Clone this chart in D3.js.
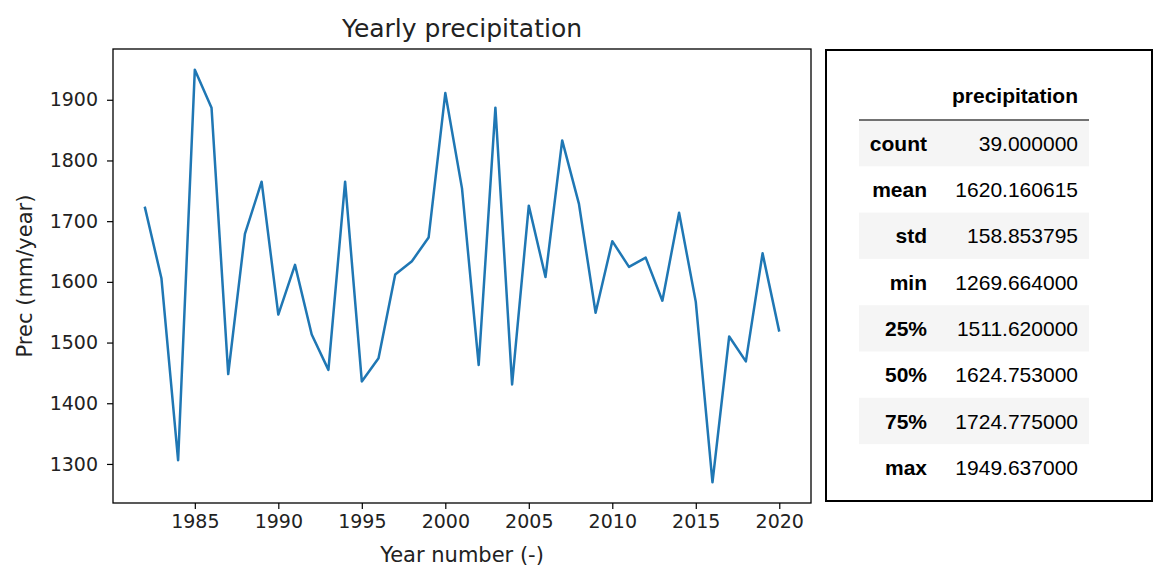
<!DOCTYPE html>
<html>
<head>
<meta charset="utf-8">
<title>Yearly precipitation</title>
<script src="https://d3js.org/d3.v7.min.js"></script>
<style>
  body { margin: 0; background: #fff; }
  svg { display: block; }
  .tick text { font-family: "DejaVu Sans", sans-serif; font-size: 19px; fill: #222; }
  .lbl { font-family: "DejaVu Sans", sans-serif; fill: #222; }
  .tbl { font-family: "Liberation Sans", Arial, sans-serif; font-size: 21px; fill: #000; }
</style>
</head>
<body>
<svg id="chart" width="1153" height="567"></svg>
<script>
// yearly totals (mm/year)
const years = d3.range(1982, 2021);
const precip = [
  1724, 1606, 1306, 1949.637, 1887, 1448, 1679, 1765, 1546, 1628,
  1513.24, 1455, 1765, 1436, 1474, 1612, 1634, 1673, 1911, 1754,
  1463, 1887, 1431, 1725.55, 1608, 1833, 1729, 1549, 1667, 1624.753,
  1640, 1569, 1714, 1567, 1269.664, 1510, 1469, 1647, 1518
];
const xTicks = [1985, 1990, 1995, 2000, 2005, 2010, 2015, 2020];
const yTicks = [1300, 1400, 1500, 1600, 1700, 1800, 1900];

// describe() table
const statLabels = ["count", "mean", "std", "min", "25%", "50%", "75%", "max"];
const statValues = ["39.000000", "1620.160615", "158.853795", "1269.664000",
                    "1511.620000", "1624.753000", "1724.775000", "1949.637000"];

const svg = d3.select("#chart");
const margin = { top: 49, right: 342, bottom: 64, left: 113 };
const width = 1153 - margin.left - margin.right,
      height = 567 - margin.top - margin.bottom;

const data = years.map((y, i) => ({ year: y, value: precip[i] }));

// matplotlib-style 5% margins
const xr = d3.extent(years), yr = d3.extent(precip);
const xPad = (xr[1] - xr[0]) * 0.05, yPad = (yr[1] - yr[0]) * 0.05;

const x = d3.scaleLinear().domain([xr[0] - xPad, xr[1] + xPad]).range([0, width]);
const y = d3.scaleLinear().domain([yr[0] - yPad, yr[1] + yPad]).range([height, 0]);

const g = svg.append("g").attr("transform", `translate(${margin.left},${margin.top})`);

g.append("g")
  .attr("transform", `translate(0,${height})`)
  .call(d3.axisBottom(x).tickValues(xTicks).tickFormat(d3.format("d")).tickSize(6).tickPadding(6))
  .call(a => a.select(".domain").remove())
  .call(a => a.selectAll("line").attr("stroke", "#000").attr("stroke-width", 1.2));

g.append("g")
  .call(d3.axisLeft(y).tickValues(yTicks).tickFormat(d3.format("d")).tickSize(6).tickPadding(9))
  .call(a => a.select(".domain").remove())
  .call(a => a.selectAll("line").attr("stroke", "#000").attr("stroke-width", 1.2));

g.append("path")
  .datum(data)
  .attr("fill", "none")
  .attr("stroke", "#1f77b4")
  .attr("stroke-width", 2.5)
  .attr("stroke-linejoin", "round")
  .attr("d", d3.line().x(d => x(d.year)).y(d => y(d.value)));

// frame
g.append("rect")
  .attr("width", width).attr("height", height)
  .attr("fill", "none").attr("stroke", "#000").attr("stroke-width", 1.3);

svg.append("text").attr("class", "lbl")
  .attr("x", margin.left + width / 2).attr("y", 37)
  .attr("text-anchor", "middle").style("font-size", "25px")
  .text("Yearly precipitation");

svg.append("text").attr("class", "lbl")
  .attr("x", margin.left + width / 2).attr("y", 562)
  .attr("text-anchor", "middle").style("font-size", "21px")
  .text("Year number (-)");

svg.append("text").attr("class", "lbl")
  .attr("transform", `translate(32,${margin.top + height / 2}) rotate(-90)`)
  .attr("text-anchor", "middle").style("font-size", "21px")
  .text("Prec (mm/year)");

// stats table
const tb = svg.append("g");
tb.append("rect")
  .attr("x", 826).attr("y", 50).attr("width", 326).attr("height", 451)
  .attr("fill", "#fff").attr("stroke", "#000").attr("stroke-width", 2);

const rowTop = 120, rowH = 46.3, tLeft = 859, tRight = 1089;
const rows = d3.scaleBand().domain(statLabels).range([rowTop, rowTop + rowH * statLabels.length]);

tb.selectAll(".shade")
  .data(statLabels.filter((d, i) => i % 2 === 0))
  .join("rect")
  .attr("x", tLeft).attr("width", tRight - tLeft)
  .attr("y", d => rows(d)).attr("height", rows.bandwidth())
  .attr("fill", "#f5f5f5");

tb.append("line")
  .attr("x1", tLeft).attr("x2", tRight).attr("y1", rowTop).attr("y2", rowTop)
  .attr("stroke", "#444").attr("stroke-width", 1.5);

tb.append("text").attr("class", "tbl")
  .attr("x", 1078).attr("y", 103).attr("text-anchor", "end")
  .style("font-weight", "bold").text("precipitation");

tb.selectAll(".rlab")
  .data(statLabels)
  .join("text").attr("class", "tbl")
  .attr("x", 927).attr("y", d => rows(d) + rows.bandwidth() / 2)
  .attr("dy", "0.36em").attr("text-anchor", "end")
  .style("font-weight", "bold").text(d => d);

tb.selectAll(".rval")
  .data(statValues)
  .join("text").attr("class", "tbl")
  .attr("x", 1078).attr("y", (d, i) => rows(statLabels[i]) + rows.bandwidth() / 2)
  .attr("dy", "0.36em").attr("text-anchor", "end")
  .text(d => d);
</script>
</body>
</html>
